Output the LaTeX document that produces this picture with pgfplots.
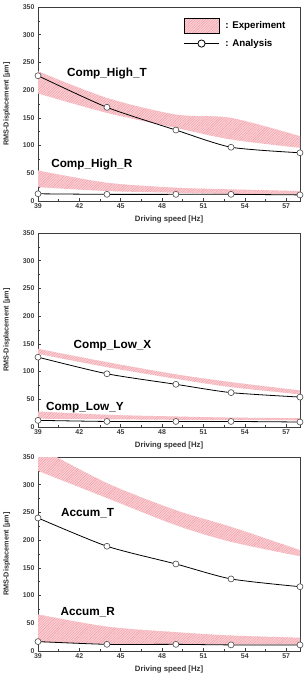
\documentclass[border=0pt]{standalone}
\usepackage{fontspec}
\setmainfont{Liberation Sans}
\usepackage{pgfplots}
\pgfplotsset{compat=1.18}
\usepgfplotslibrary{fillbetween}
\usetikzlibrary{patterns.meta}
\definecolor{bandfill}{RGB}{250,208,212}
\definecolor{hatch}{RGB}{240,155,165}
\definecolor{axgray}{RGB}{60,60,60}
\tikzset{lab/.style={font=\fontsize{11.8}{13}\selectfont\bfseries}}
\pgfplotsset{
  panel/.style={
    scale only axis, width=262bp, height=194bp,
    xmin=39, xmax=58, ymin=0, ymax=350,
    xtick={39,42,...,57}, ytick={0,50,...,350},
    minor x tick num=1, minor y tick num=1,
    tick align=inside, xtick pos=bottom, ytick pos=left,
    major tick length=3bp, minor tick length=1.8bp,
    axis line style={axgray, line width=0.8bp},
    every tick/.style={axgray, line width=0.6bp},
    /pgf/number format/assume math mode=true,
    tick label style={font=\fontsize{7}{8}\selectfont\bfseries, text=black!75},
    xticklabel style={yshift=1bp},
    xlabel={Driving speed [Hz]},
    ylabel={RMS-Displacement [μm]},
    every axis x label/.style={at={(axis description cs:0.5,-0.095)}, anchor=center, font=\fontsize{7.8}{8}\selectfont\bfseries, text=black!80},
    every axis y label/.style={at={(axis description cs:-0.119,0.5)}, rotate=90, anchor=center, font=\fontsize{7.3}{8}\selectfont\bfseries, text=black!80},
  },
  band/.style={fill=bandfill, postaction={pattern={Lines[angle=45, distance=1.8bp, line width=0.4bp]}, pattern color=hatch}},
  ana/.style={black, line width=0.8bp, smooth, tension=0.4, mark=*, mark size=3bp, mark options={fill=white, draw=black!70, line width=0.6bp}},
}
\begin{document}
\begin{tikzpicture}
% ---------- Panel 1 ----------
\begin{axis}[panel, at={(0,0)}, anchor=north west,
  legend style={at={(axis description cs:0.555,0.945)}, anchor=north west, draw=none, fill=none,
    font=\fontsize{9.8}{11}\selectfont\bfseries, row sep=4bp, inner sep=0pt},
  legend cell align=left]
\addlegendimage{legend image code/.code={\draw[fill=bandfill, draw=none, postaction={pattern={Lines[angle=45, distance=1.8bp, line width=0.4bp]}, pattern color=hatch}] (0bp,-7.5bp) rectangle (35bp,7.5bp);}}
\addlegendentry{\hspace{4bp}: Experiment}
\addlegendimage{legend image code/.code={\draw[black, line width=0.8bp] (0bp,0bp) -- (35bp,0bp); \draw[black, fill=white, line width=0.8bp] (17.5bp,0bp) circle (3.6bp);}}
\addlegendentry{\hspace{4bp}: Analysis}
\addplot[name path=htu, draw=none, smooth, forget plot] coordinates {(39,234) (44,186) (49,156) (53,150) (58,117)};
\addplot[name path=htl, draw=none, smooth, forget plot] coordinates {(39,194) (44,159) (49,132) (53,111) (58,96)};
\addplot[band, forget plot] fill between[of=htu and htl];
\addplot[name path=hru, draw=none, smooth, forget plot] coordinates {(39,55) (44,33) (49,24) (53,21) (58,18)};
\addplot[name path=hrl, draw=none, smooth, forget plot] coordinates {(39,25) (44,18) (49,15) (53,13) (58,12)};
\addplot[band, forget plot] fill between[of=hru and hrl];
\addplot[ana, forget plot] coordinates {(39,226) (44,169) (49,128) (53,97) (58,87)};
\addplot[ana, forget plot] coordinates {(39,13) (44,12) (49,12) (53,12) (58,11)};
\node[lab] at (axis cs:44,230) {Comp\_High\_T};
\node[lab] at (axis cs:42.9,65) {Comp\_High\_R};
\end{axis}
% ---------- Panel 2 ----------
\begin{axis}[panel, at={(0,-226bp)}, anchor=north west]
\addplot[name path=lxu, draw=none, smooth] coordinates {(39,141) (44,117) (49,95) (53,81) (58,66)};
\addplot[name path=lxl, draw=none, smooth] coordinates {(39,132) (44,108) (49,87) (53,72) (58,59)};
\addplot[band] fill between[of=lxu and lxl];
\addplot[name path=lyu, draw=none, smooth] coordinates {(39,28) (44,22) (49,19) (53,17) (58,16)};
\addplot[name path=lyl, draw=none, smooth] coordinates {(39,15) (44,14) (49,13) (53,13) (58,12)};
\addplot[band] fill between[of=lyu and lyl];
\addplot[ana] coordinates {(39,126) (44,96) (49,77) (53,62) (58,54)};
\addplot[ana] coordinates {(39,12) (44,10) (49,10) (53,10) (58,9)};
\node[lab] at (axis cs:44.4,146) {Comp\_Low\_X};
\node[lab] at (axis cs:42.4,35) {Comp\_Low\_Y};
\end{axis}
% ---------- Panel 3 ----------
\begin{axis}[panel, at={(0,-450bp)}, anchor=north west]
\addplot[name path=atu, draw=none, smooth] coordinates {(39,368) (44,303) (49,254) (53,224) (58,182)};
\addplot[name path=atl, draw=none, smooth] coordinates {(39,325) (44,276) (49,227) (53,197) (58,171)};
\addplot[band] fill between[of=atu and atl];
\addplot[name path=aru, draw=none, smooth] coordinates {(39,66) (44,44) (49,34) (53,28) (58,24)};
\addplot[name path=arl, draw=none, smooth] coordinates {(39,16) (44,13) (49,12) (53,12) (58,12)};
\addplot[band] fill between[of=aru and arl];
\addplot[ana] coordinates {(39,240) (44,189) (49,157) (53,130) (58,116)};
\addplot[ana] coordinates {(39,17) (44,12) (49,12) (53,11) (58,11)};
\node[lab] at (axis cs:42.6,248) {Accum\_T};
\node[lab] at (axis cs:42.6,70) {Accum\_R};
\end{axis}
\pgfresetboundingbox
\path (-38bp,7bp) rectangle (267bp,-666bp);
\end{tikzpicture}
\end{document}
